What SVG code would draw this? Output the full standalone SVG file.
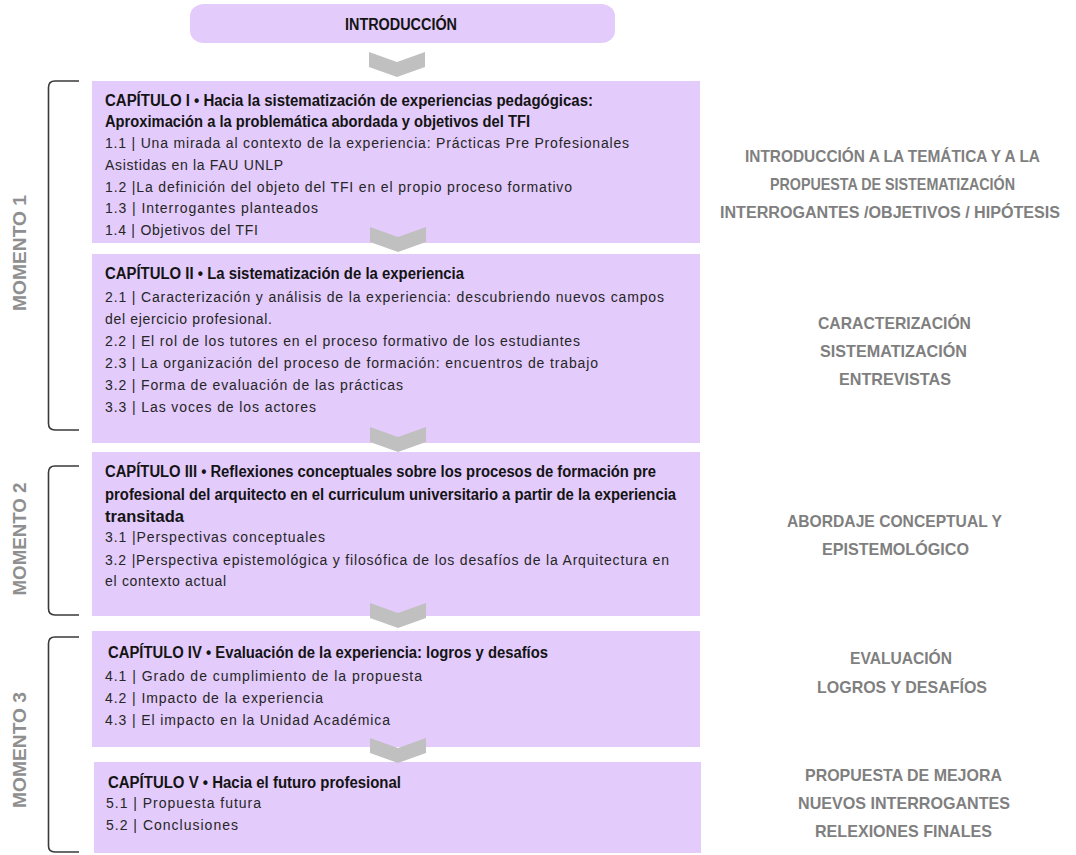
<svg xmlns="http://www.w3.org/2000/svg" width="1076" height="855" viewBox="0 0 1076 855">
<style>
.box{fill:#e3cbfb}
.chev{fill:#c0c0c0}
.br{fill:none;stroke:#3a3a3a;stroke-width:1.6}
.t{font-family:"Liberation Sans Narrow","Liberation Sans",Arial,sans-serif;font-weight:bold;font-size:16px;fill:#141414}
.b{font-family:"Liberation Sans",Arial,sans-serif;font-size:14px;fill:#262626}
.r{font-family:"Liberation Sans Narrow","Liberation Sans",Arial,sans-serif;font-weight:bold;font-size:17px;fill:#7f7f7f;text-anchor:middle}
.m{font-family:"Liberation Sans",Arial,sans-serif;font-weight:bold;font-size:18px;fill:#8f8f8f;text-anchor:middle}
</style>
<defs>
<polygon id="chevron" points="0,0 28,10 56,0 56,15 28,25 0,15"/>
</defs>
<rect width="1076" height="855" fill="#ffffff"/>

<g id="intro">
<rect class="box" x="190" y="4" width="425" height="39" rx="14" ry="12"/>
<text class="t" x="401" y="30" text-anchor="middle" textLength="112" lengthAdjust="spacingAndGlyphs">INTRODUCCIÓN</text>
</g>

<g id="cap1">
<rect class="box" x="92" y="81" width="608" height="162"/>
<text class="t" x="105" y="105.7" textLength="488" lengthAdjust="spacingAndGlyphs">CAPÍTULO I •  Hacia la sistematización de experiencias pedagógicas:</text>
<text class="t" x="105" y="127.4" textLength="425" lengthAdjust="spacingAndGlyphs">Aproximación a la problemática abordada y objetivos del TFI</text>
<text class="b" x="105" y="148.3" textLength="524" lengthAdjust="spacing">1.1 | Una mirada al contexto de la experiencia: Prácticas Pre Profesionales</text>
<text class="b" x="105" y="170" textLength="178" lengthAdjust="spacing">Asistidas en la FAU UNLP</text>
<text class="b" x="105" y="191.7" textLength="467" lengthAdjust="spacing">1.2 |La definición del objeto del TFI en el propio proceso formativo</text>
<text class="b" x="105" y="213.3" textLength="213" lengthAdjust="spacing">1.3 | Interrogantes planteados</text>
<text class="b" x="105" y="235" textLength="153" lengthAdjust="spacing">1.4 | Objetivos del TFI</text>
</g>

<g id="cap2">
<rect class="box" x="92" y="254" width="608" height="189"/>
<text class="t" x="105" y="278.7" textLength="359" lengthAdjust="spacingAndGlyphs">CAPÍTULO II • La sistematización de la experiencia</text>
<text class="b" x="105" y="302" textLength="559" lengthAdjust="spacing">2.1 | Caracterización y análisis de la experiencia: descubriendo nuevos campos</text>
<text class="b" x="105" y="324" textLength="167" lengthAdjust="spacing">del ejercicio profesional.</text>
<text class="b" x="105" y="346" textLength="475" lengthAdjust="spacing">2.2 | El rol de los tutores en el proceso formativo de los estudiantes</text>
<text class="b" x="105" y="368" textLength="493" lengthAdjust="spacing">2.3 | La organización del proceso de formación: encuentros de trabajo</text>
<text class="b" x="105" y="390" textLength="298" lengthAdjust="spacing">3.2 | Forma de evaluación de las prácticas</text>
<text class="b" x="105" y="412" textLength="211" lengthAdjust="spacing">3.3 | Las voces de los actores</text>
</g>

<g id="cap3">
<rect class="box" x="92" y="452" width="608" height="164"/>
<text class="t" x="105" y="476.7" textLength="551" lengthAdjust="spacingAndGlyphs">CAPÍTULO III •  Reflexiones conceptuales sobre los procesos de formación pre</text>
<text class="t" x="105" y="499.7" textLength="571" lengthAdjust="spacingAndGlyphs">profesional del arquitecto en el curriculum universitario a partir de la experiencia</text>
<text class="t" x="105" y="521.7" textLength="79" lengthAdjust="spacingAndGlyphs">transitada</text>
<text class="b" x="105" y="542" textLength="220" lengthAdjust="spacing">3.1 |Perspectivas conceptuales</text>
<text class="b" x="105" y="565" textLength="564" lengthAdjust="spacing">3.2 |Perspectiva epistemológica y filosófica de los desafíos de la Arquitectura en</text>
<text class="b" x="105" y="586" textLength="121" lengthAdjust="spacing">el contexto actual</text>
</g>

<g id="cap4">
<rect class="box" x="92" y="631" width="608" height="116"/>
<text class="t" x="108" y="657.7" textLength="440" lengthAdjust="spacingAndGlyphs">CAPÍTULO IV •  Evaluación de la experiencia: logros y desafíos</text>
<text class="b" x="105" y="681" textLength="317" lengthAdjust="spacing">4.1 | Grado de cumplimiento de la propuesta</text>
<text class="b" x="105" y="703" textLength="218" lengthAdjust="spacing">4.2 | Impacto de la experiencia</text>
<text class="b" x="105" y="725" textLength="285" lengthAdjust="spacing">4.3 | El impacto en la Unidad Académica</text>
</g>

<g id="cap5">
<rect class="box" x="94" y="762" width="607" height="91"/>
<text class="t" x="108" y="787.7" textLength="293" lengthAdjust="spacingAndGlyphs">CAPÍTULO V •  Hacia el futuro profesional</text>
<text class="b" x="106" y="808" textLength="155" lengthAdjust="spacing">5.1 | Propuesta futura</text>
<text class="b" x="106" y="830" textLength="132" lengthAdjust="spacing">5.2 | Conclusiones</text>
</g>

<g id="connectors">
<use href="#chevron" class="chev" x="369" y="52"/>
<use href="#chevron" class="chev" x="370" y="227"/>
<use href="#chevron" class="chev" x="370" y="427"/>
<use href="#chevron" class="chev" x="370" y="603"/>
<use href="#chevron" class="chev" x="370" y="738"/>
</g>

<g id="momento1">
<path class="br" d="M79,81 H55 Q48.5,81 48.5,87.5 V423.5 Q48.5,430 55,430 H79"/>
<text class="m" transform="translate(25.5,253) rotate(-90)" textLength="116" lengthAdjust="spacingAndGlyphs">MOMENTO 1</text>
</g>
<g id="momento2">
<path class="br" d="M79,466 H55 Q48.5,466 48.5,472.5 V608.5 Q48.5,615 55,615 H79"/>
<text class="m" transform="translate(25.5,539) rotate(-90)" textLength="113" lengthAdjust="spacingAndGlyphs">MOMENTO 2</text>
</g>
<g id="momento3">
<path class="br" d="M79,637 H55 Q48.5,637 48.5,643.5 V846 Q48.5,852 55,852 H79"/>
<text class="m" transform="translate(25.5,750) rotate(-90)" textLength="116" lengthAdjust="spacingAndGlyphs">MOMENTO 3</text>
</g>

<g id="labels">
<text class="r" x="892.5" y="161.5" textLength="295" lengthAdjust="spacingAndGlyphs">INTRODUCCIÓN A LA TEMÁTICA Y A LA</text>
<text class="r" x="892.5" y="189.5" textLength="245" lengthAdjust="spacingAndGlyphs">PROPUESTA DE SISTEMATIZACIÓN</text>
<text class="r" x="890" y="217.5" style="font-size:16px" textLength="340" lengthAdjust="spacingAndGlyphs">INTERROGANTES /OBJETIVOS / HIPÓTESIS</text>
<text class="r" x="894.5" y="328.5" textLength="153" lengthAdjust="spacingAndGlyphs">CARACTERIZACIÓN</text>
<text class="r" x="893.5" y="356.5" textLength="147" lengthAdjust="spacingAndGlyphs">SISTEMATIZACIÓN</text>
<text class="r" x="895" y="384.5" textLength="112" lengthAdjust="spacingAndGlyphs">ENTREVISTAS</text>
<text class="r" x="894.5" y="526.5" textLength="215" lengthAdjust="spacingAndGlyphs">ABORDAJE CONCEPTUAL Y</text>
<text class="r" x="895.5" y="554.5" textLength="147" lengthAdjust="spacingAndGlyphs">EPISTEMOLÓGICO</text>
<text class="r" x="901" y="663.5" textLength="102" lengthAdjust="spacingAndGlyphs">EVALUACIÓN</text>
<text class="r" x="902" y="692.5" textLength="170" lengthAdjust="spacingAndGlyphs">LOGROS Y DESAFÍOS</text>
<text class="r" x="903.5" y="780.5" textLength="197" lengthAdjust="spacingAndGlyphs">PROPUESTA DE MEJORA</text>
<text class="r" x="904" y="808.5" textLength="212" lengthAdjust="spacingAndGlyphs">NUEVOS INTERROGANTES</text>
<text class="r" x="903.5" y="836.5" textLength="177" lengthAdjust="spacingAndGlyphs">RELEXIONES FINALES</text>
</g>
</svg>
